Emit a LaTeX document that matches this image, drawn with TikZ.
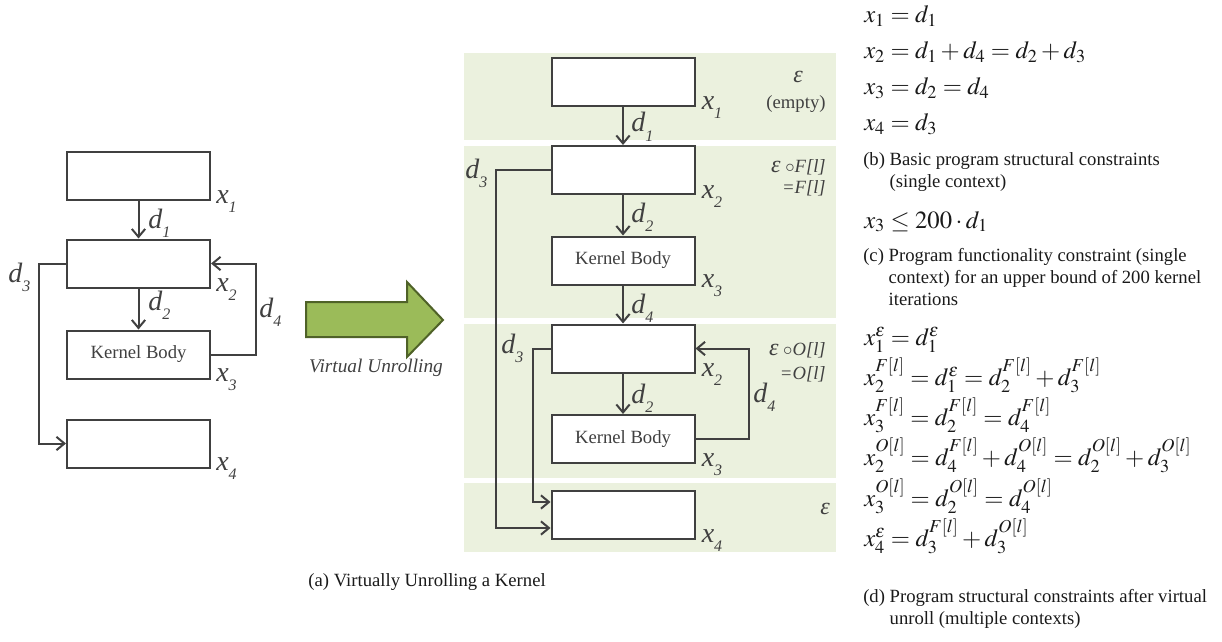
\documentclass[tikz,border=0pt]{standalone}
\usepackage{mathptmx}
\usepackage[no-math]{fontspec}
\setmainfont{Liberation Serif}
\usetikzlibrary{arrows.meta,calc}
\definecolor{ln}{HTML}{404040}
\definecolor{bandc}{HTML}{EBF1DE}
\definecolor{arrfill}{HTML}{9BBB59}
\definecolor{arrline}{HTML}{4F6228}
\definecolor{eqc}{HTML}{1A1A1A}
\newcommand{\lbl}[2]{\textit{#1}\raisebox{-0.33em}{\fontsize{12}{12}\selectfont\textit{#2}}}
\begin{document}
\begin{tikzpicture}[x=0.75pt,y=-0.75pt,
  box/.style={draw=ln, line width=1.5pt, fill=white, minimum width=107.25pt, minimum height=36pt, inner sep=0pt, font=\fontsize{14}{14}\selectfont, text=ln},
  conn/.style={draw=ln, line width=1.5pt, -{Straight Barb[length=6pt,width=10pt]}},
  lab/.style={font=\fontsize{21}{21}\selectfont, text=ln, inner sep=0pt, anchor=base west},
  ctx/.style={font=\fontsize{14}{14}\selectfont\itshape, text=ln, inner sep=0pt, anchor=east},
  eps/.style={font=\fontsize{18}{18}\selectfont\itshape, text=ln, inner sep=0pt},
  eq/.style={font=\fontsize{18.5}{18.5}\selectfont, text=eqc, inner sep=0pt, anchor=base west},
  captxt/.style={font=\fontsize{14}{16.5}\selectfont, text=eqc, inner sep=0pt, anchor=base west},
]
\useasboundingbox (0,0) rectangle (1222,642);

% context bands
\fill[bandc] (464,53) rectangle (836,140);
\fill[bandc] (464,146) rectangle (836,318);
\fill[bandc] (464,324) rectangle (836,478);
\fill[bandc] (464,483) rectangle (836,552);

% left diagram
\node[box] (L1) at (138.5,176) {};
\node[box] (L2) at (138.5,263.5) {};
\node[box] (L3) at (138.5,354.5) {Kernel Body};
\node[box] (L4) at (138.5,443.5) {};
\draw[conn] (L1.south) -- (L2.north);
\draw[conn] (L2.south) -- (L3.north);
\draw[conn] (L2.west) -- ++(-27,0) |- (L4.west);
\draw[conn] (L3.east) -- ++(45,0) |- (L2.east);
\node[lab] (lx1) at ($(L1.south east)+(5,2)$) {\lbl{x}{1}};
\node[lab] (lx2) at ($(L2.south east)+(5,3)$) {\lbl{x}{2}};
\node[lab] (lx3) at ($(L3.south east)+(5,2)$) {\lbl{x}{3}};
\node[lab] (lx4) at ($(L4.south east)+(5,2)$) {\lbl{x}{4}};
\node[lab] (ld1) at (148,228) {\lbl{d}{1}};
\node[lab] (ld2) at (148,310) {\lbl{d}{2}};
\node[lab] (ld3) at (8,282) {\lbl{d}{3}};
\node[lab] (ld4) at (259,317) {\lbl{d}{4}};

% big arrow
\filldraw[fill=arrfill, draw=arrline, line width=1.5pt] (306,302) -- (407,302) -- (407,282) -- (443,320) -- (407,357) -- (407,337) -- (306,337) -- cycle;
\node[font=\fontsize{14.5}{14.5}\selectfont\itshape, text=ln, anchor=base, inner sep=0pt] (vu) at (376,372) {Virtual Unrolling};

% middle diagram
\node[box] (A) at (623,82) {};
\node[box] (B) at (623,170) {};
\node[box] (C) at (623,260.5) {Kernel Body};
\node[box] (D) at (623,348.5) {};
\node[box] (E) at (623,439) {Kernel Body};
\node[box] (F) at (623,515) {};
\draw[conn] (A.south) -- (B.north);
\draw[conn] (B.south) -- (C.north);
\draw[conn] (C.south) -- (D.north);
\draw[conn] (D.south) -- (E.north);
\draw[conn] (B.west) -- ++(-55,0) |- ($(F.west)+(0,13)$);
\draw[conn] (D.west) -- ++(-18,0) |- ($(F.west)+(0,-13)$);
\draw[conn] (E.east) -- ++(53,0) |- (D.east);
\node[lab] (mx1) at ($(A.south east)+(6,2)$) {\lbl{x}{1}};
\node[lab] (mx2) at ($(B.south east)+(6,3)$) {\lbl{x}{2}};
\node[lab] (mx3) at ($(C.south east)+(6,2)$) {\lbl{x}{3}};
\node[lab] (mx2b) at ($(D.south east)+(6,3)$) {\lbl{x}{2}};
\node[lab] (mx3b) at ($(E.south east)+(6,2)$) {\lbl{x}{3}};
\node[lab] (mx4) at ($(F.south east)+(6,2)$) {\lbl{x}{4}};
\node[lab] (md1) at (631,132) {\lbl{d}{1}};
\node[lab] (md3) at (465,178) {\lbl{d}{3}};
\node[lab] (md2) at (631,222) {\lbl{d}{2}};
\node[lab] (md4) at (631,313) {\lbl{d}{4}};
\node[lab] (md3b) at (501,353) {\lbl{d}{3}};
\node[lab] (md2b) at (631,403) {\lbl{d}{2}};
\node[lab] (md4b) at (753,402) {\lbl{d}{4}};

% context labels
\node[eps] (e1) at (798,77) {ε};
\node[font=\fontsize{14}{14}\selectfont, text=ln, inner sep=0pt] (e1b) at (796,104) {(empty)};
\node[ctx] (e2) at (826,167) {{\fontsize{18}{18}\selectfont ε} $\circ$F[l]};
\node[ctx] (e3) at (826,188) {=F[l]};
\node[ctx] (e4) at (826,350) {{\fontsize{18}{18}\selectfont ε} $\circ$O[l]};
\node[ctx] (e5) at (826,374) {=O[l]};
\node[eps, anchor=east] (e6) at (830,509) {ε};

\node[captxt, anchor=base east] (capa) at (546,586) {(a) Virtually Unrolling a Kernel};

% right column
\node[eq] (b1) at (864,23) {$x_1 = d_1$};
\node[eq] (b2) at (864,59) {$x_2 = d_1 + d_4 = d_2 + d_3$};
\node[eq] (b3) at (864,95) {$x_3 = d_2 = d_4$};
\node[eq] (b4) at (864,131) {$x_4 = d_3$};
\node[captxt] (bc) at (863,166) {\begin{tabular}[t]{@{}l@{\ }l@{}}(b)&Basic program structural constraints\\&(single context)\end{tabular}};
\node[eq] (c1) at (864,228) {$x_3 \le 200\cdot d_1$};
\node[captxt] (cc) at (863,261) {\begin{tabular}[t]{@{}l@{\ }l@{}}(c)&Program functionality constraint (single\\&context) for an upper bound of 200 kernel\\&iterations\end{tabular}};
\node[eq] (d1) at (864,345) {$x_1^{\varepsilon} = d_1^{\varepsilon}$};
\node[eq] (d2) at (864,385) {$x_2^{F[l]} = d_1^{\varepsilon} = d_2^{F[l]} + d_3^{F[l]}$};
\node[eq] (d3) at (864,425) {$x_3^{F[l]} = d_2^{F[l]} = d_4^{F[l]}$};
\node[eq] (d4) at (864,465) {$x_2^{O[l]} = d_4^{F[l]} + d_4^{O[l]} = d_2^{O[l]} + d_3^{O[l]}$};
\node[eq] (d5) at (864,506) {$x_3^{O[l]} = d_2^{O[l]} = d_4^{O[l]}$};
\node[eq] (d6) at (864,546) {$x_4^{\varepsilon} = d_3^{F[l]} + d_3^{O[l]}$};
\node[captxt] (dc) at (863,602) {\begin{tabular}[t]{@{}l@{\ }l@{}}(d)&Program structural constraints after virtual\\&unroll (multiple contexts)\end{tabular}};
\end{tikzpicture}
\end{document}
